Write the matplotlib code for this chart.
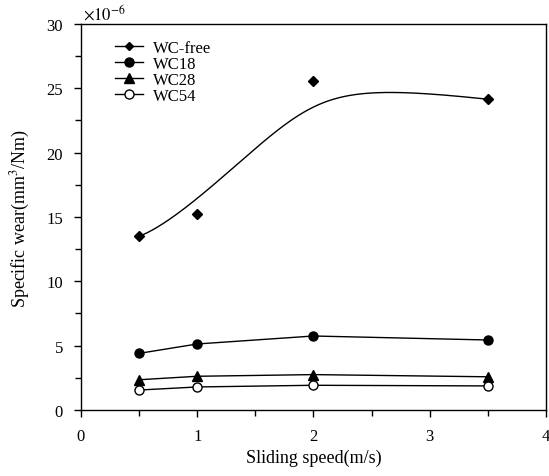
import numpy as np
import matplotlib.pyplot as plt
from matplotlib.ticker import MultipleLocator

# Sliding speed (m/s) and specific wear (x1e-6 mm^3/Nm)
speed = [0.5, 1.0, 2.0, 3.5]
wc_free = [13.5, 15.2, 25.6, 24.15]
wc18 = [4.4, 5.13, 5.75, 5.44]
wc28 = [2.35, 2.62, 2.75, 2.58]
wc54 = [1.55, 1.79, 1.92, 1.87]

plt.rcParams['font.family'] = ['Liberation Serif', 'DejaVu Serif']
plt.rcParams['mathtext.fontset'] = 'stix'

fig = plt.figure(figsize=(5.49, 4.77), dpi=100)
ax = fig.add_axes([0.1475, 0.1384, 0.847, 0.8092])

# WC-free trend: rational Bezier with the measured points as control points
t = np.linspace(0, 1, 300)[:, None]
P = np.column_stack([speed, wc_free])
w = np.array([1.0, 2.0, 4.0, 1.0])
bern = np.hstack([(1 - t)**3, 3*(1 - t)**2*t, 3*(1 - t)*t**2, t**3]) * w
curve = (bern @ P) / bern.sum(axis=1, keepdims=True)
ax.plot(curve[:, 0], curve[:, 1], color='k', lw=1.0)
ax.plot(speed, wc_free, ls='none', marker='D', ms=5, color='k')

lk = dict(color='k', lw=1.0)
ax.plot(speed, wc18, marker='o', ms=6.5, **lk)
ax.plot(speed, wc28, marker='^', ms=6.5, **lk)
ax.plot(speed, wc54, marker='o', ms=6.5, mfc='white', mec='k', **lk)

# legend handles drawn as line+marker
h = [plt.Line2D([], [], marker='D', ms=4.5, **lk),
     plt.Line2D([], [], marker='o', ms=6.5, **lk),
     plt.Line2D([], [], marker='^', ms=6.5, **lk),
     plt.Line2D([], [], marker='o', ms=6.5, mfc='white', mec='k', **lk)]
ax.legend(h, ['WC-free', 'WC18', 'WC28', 'WC54'], loc='upper left',
          bbox_to_anchor=(0.058, 0.975), frameon=False, fontsize=12,
          handlelength=1.7, handletextpad=0.6, labelspacing=0.0,
          borderaxespad=0)

ax.set_xlim(0, 4)
ax.set_ylim(0, 30)
ax.xaxis.set_major_locator(MultipleLocator(1))
ax.xaxis.set_minor_locator(MultipleLocator(0.5))
ax.yaxis.set_major_locator(MultipleLocator(5))
ax.yaxis.set_minor_locator(MultipleLocator(2.5))
ax.tick_params(which='both', direction='out', labelsize=12, width=1)
ax.tick_params(which='major', length=5, pad=8)
ax.tick_params(which='minor', length=4)
for s in ax.spines.values():
    s.set_linewidth(1.0)

ax.text(0.005, 1.003, r'$\times10^{-6}$', transform=ax.transAxes,
        fontsize=12, va='bottom', ha='left')
ax.set_xlabel('Sliding speed(m/s)', fontsize=13, labelpad=3)
ax.set_ylabel('Specific wear(mm$^3$/Nm)', fontsize=13, labelpad=10)

plt.savefig('out.png', dpi=100)
